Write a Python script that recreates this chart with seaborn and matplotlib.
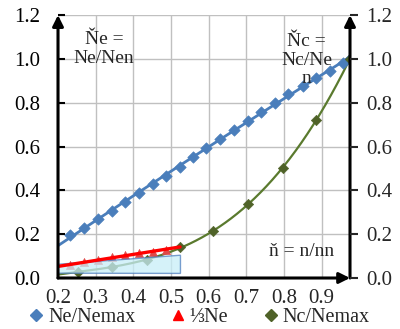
import numpy as np
import pandas as pd
import matplotlib
matplotlib.use("Agg")
import matplotlib.pyplot as plt
import seaborn as sns

# ---- data ----
x_ne = [0.232, 0.269, 0.306, 0.343, 0.378, 0.415, 0.452, 0.487, 0.524, 0.559, 0.594,
        0.630, 0.667, 0.703, 0.738, 0.776, 0.811, 0.849, 0.884, 0.921, 0.957, 0.975]
ne_nemax = [0.196, 0.230, 0.269, 0.306, 0.347, 0.387, 0.427, 0.466, 0.507, 0.551, 0.592,
            0.635, 0.676, 0.717, 0.759, 0.800, 0.839, 0.877, 0.912, 0.947, 0.983, 1.000]

x_third = [0.232, 0.269, 0.306, 0.343, 0.378, 0.415, 0.452, 0.487]
third_ne = [0.058, 0.072, 0.083, 0.095, 0.105, 0.112, 0.120, 0.130]

x_nc = [0.254, 0.343, 0.435, 0.524, 0.612, 0.705, 0.796, 0.884, 0.975]
nc_nemax = [0.028, 0.050, 0.083, 0.140, 0.215, 0.336, 0.501, 0.721, 1.000]

x_ticks = [0.2, 0.3, 0.4, 0.5, 0.6, 0.7, 0.8, 0.9]
y_ticks = [0.0, 0.2, 0.4, 0.6, 0.8, 1.0, 1.2]

shade_x = [0.195, 0.525, 0.525, 0.195]
shade_y = [0.062, 0.104, 0.021, 0.022]

labels = ["Ne/Nemax", "\u2153Ne", "Nc/Nemax"]

# ---- style ----
sns.set_style("white")
plt.rcParams["font.family"] = ["Liberation Serif", "DejaVu Serif"]

BLUE = "#4a7ebb"
RED = "#ff0000"
TRI = "#e04848"
GREEN = "#4f6228"

fig = plt.figure(figsize=(4.0, 3.29), dpi=100)
ax = fig.add_axes([0.145, 0.155, 0.73, 0.799])
XMIN, XMAX = 0.2, 0.975
ax.set_xlim(XMIN, XMAX)
ax.set_ylim(0, 1.2)

# trendlines (fitted from the data)
xs_full = np.linspace(XMIN, XMAX, 200)
xs_red = np.linspace(XMIN, 0.524, 50)
blue_fit = np.polyval(np.polyfit(x_ne, ne_nemax, 2), xs_full)
green_fit = np.polyval(np.polyfit(x_nc, nc_nemax, 3), xs_full)
red_fit = np.polyval(np.polyfit(x_third, third_ne, 1), xs_red)

sns.lineplot(x=xs_full, y=green_fit, ax=ax, color="#5a7a2e", lw=1.6, zorder=3)
sns.scatterplot(x=x_nc, y=nc_nemax, ax=ax, marker="D", color=GREEN, s=28,
                edgecolor=GREEN, zorder=4)
sns.scatterplot(x=x_third, y=third_ne, ax=ax, marker="^", color=TRI, s=34,
                edgecolor=TRI, zorder=4)
ax.fill(shade_x, shade_y, facecolor="#c8eef8", alpha=0.75, edgecolor="#4f7fbf",
        lw=1.0, zorder=5)
sns.lineplot(x=xs_red, y=red_fit, ax=ax, color=RED, lw=2.4, zorder=6)
sns.lineplot(x=xs_full, y=blue_fit, ax=ax, color=BLUE, lw=2.0, zorder=6)
sns.scatterplot(x=x_ne, y=ne_nemax, ax=ax, marker="D", color=BLUE, s=34,
                edgecolor=BLUE, zorder=7)
# redraw last green on top
sns.scatterplot(x=x_nc[-1:], y=nc_nemax[-1:], ax=ax, marker="D", color=GREEN, s=28,
                edgecolor=GREEN, zorder=8)

# grid / ticks
ax.set_xticks(x_ticks)
ax.set_xticklabels([f"{v:.1f}" for v in x_ticks])
ax.set_yticks(y_ticks)
ax.set_yticklabels([f"{v:.1f}" for v in y_ticks])
ax.grid(True, color="#c0c0c0", lw=1.0, zorder=0)
ax.set_axisbelow(True)
ax.tick_params(axis="x", length=0, pad=8, labelsize=15)
ax.tick_params(axis="y", direction="in", length=5, width=1.5, pad=13, labelsize=15,
               colors="black")
for s in ax.spines.values():
    s.set_visible(False)

ax2 = ax.twinx()
ax2.set_ylim(0, 1.2)
ax2.set_yticks(y_ticks)
ax2.set_yticklabels([f"{v:.1f}" for v in y_ticks])
ax2.tick_params(axis="y", direction="out", length=6, width=1.5, pad=6, labelsize=15)
for s in ax2.spines.values():
    s.set_visible(False)

arrow = dict(arrowstyle="-|>", lw=2.2, color="black", mutation_scale=16,
             shrinkA=0, shrinkB=0)
ax.annotate("", xy=(0, 1.0), xytext=(0, 0), xycoords="axes fraction",
            textcoords="axes fraction", arrowprops=arrow, zorder=10)
ax.annotate("", xy=(1.0, 1.0), xytext=(1.0, 0), xycoords="axes fraction",
            textcoords="axes fraction", arrowprops=arrow, zorder=10)
ax.annotate("", xy=(1.0, 0), xytext=(0, 0), xycoords="axes fraction",
            textcoords="axes fraction", arrowprops=arrow, zorder=10)

# annotations
ax.text(0.322, 1.045, "\u0147e =\nNe/Nen", ha="center", va="center", fontsize=14,
        linespacing=1.1, zorder=11)
ax.text(0.86, 0.995, "\u0147c =\nNc/Ne\nn", ha="center", va="center", fontsize=14,
        linespacing=1.1, zorder=11)
ax.text(0.847, 0.123, "\u0148 = n/nn", ha="center", va="center", fontsize=14, zorder=11)

# legend
from matplotlib.lines import Line2D
handles = [
    Line2D([], [], ls="none", marker="D", color=BLUE, markersize=6),
    Line2D([], [], ls="none", marker="^", color=RED, markersize=7),
    Line2D([], [], ls="none", marker="D", color=GREEN, markersize=6),
]
fig.legend(handles, labels, loc="lower center", bbox_to_anchor=(0.5, 0.0), ncol=3,
           frameon=False, fontsize=14.5, handlelength=0.6, handletextpad=0.3,
           columnspacing=1.8, borderaxespad=0, borderpad=0.1)

fig.savefig("out.png", dpi=100)
